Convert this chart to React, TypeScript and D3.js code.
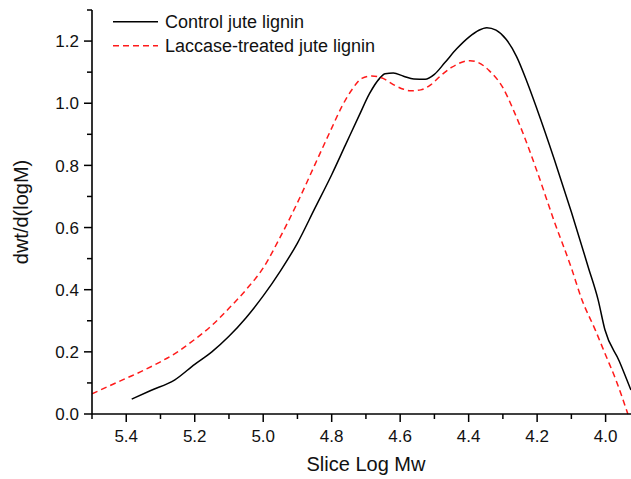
import React from "react";
import * as d3 from "d3";

const controlLogM = [5.384, 5.33, 5.258, 5.2, 5.15, 5.1, 5.05, 5.0, 4.95, 4.9, 4.85, 4.8, 4.76, 4.72, 4.69, 4.66, 4.644, 4.62, 4.59, 4.56, 4.527, 4.5, 4.47, 4.435, 4.4, 4.37, 4.347, 4.32, 4.29, 4.26, 4.23, 4.2, 4.15, 4.1, 4.05, 4.022, 4.002, 3.96, 3.926];
const controlVal = [0.048, 0.075, 0.11, 0.16, 0.2, 0.25, 0.31, 0.38, 0.46, 0.55, 0.66, 0.77, 0.865, 0.96, 1.03, 1.08, 1.095, 1.097, 1.087, 1.078, 1.077, 1.093, 1.13, 1.175, 1.212, 1.235, 1.243, 1.235, 1.205, 1.15, 1.07, 0.98, 0.82, 0.65, 0.47, 0.368, 0.271, 0.17, 0.077];

const laccaseLogM = [5.5, 5.45, 5.4, 5.35, 5.3, 5.25, 5.2, 5.15, 5.1, 5.05, 5.0, 4.95, 4.9, 4.85, 4.8, 4.77, 4.74, 4.712, 4.683, 4.65, 4.62, 4.59, 4.571, 4.54, 4.51, 4.48, 4.45, 4.42, 4.396, 4.37, 4.34, 4.3, 4.27, 4.24, 4.2, 4.15, 4.1, 4.07, 4.03, 4.0, 3.97, 3.935];
const laccaseVal = [0.065, 0.09, 0.115, 0.14, 0.168, 0.2, 0.24, 0.285, 0.34, 0.4, 0.47, 0.57, 0.68, 0.8, 0.92, 0.99, 1.045, 1.08, 1.088, 1.08, 1.06, 1.045, 1.04, 1.043, 1.06, 1.09, 1.115, 1.132, 1.137, 1.13, 1.105, 1.05, 0.98, 0.9, 0.78, 0.62, 0.47, 0.37, 0.27, 0.19, 0.11, 0.0];

const xMajorTicks = [5.4, 5.2, 5.0, 4.8, 4.6, 4.4, 4.2, 4.0];
const xMinorTicks = [5.5, 5.3, 5.1, 4.9, 4.7, 4.5, 4.3, 4.1];
const yMajorTicks = [0.0, 0.2, 0.4, 0.6, 0.8, 1.0, 1.2];
const yMinorTicks = [0.1, 0.3, 0.5, 0.7, 0.9, 1.1, 1.3];

const seriesNames = ["Control jute lignin", "Laccase-treated jute lignin"];
const xTitle = "Slice Log Mw";
const yTitle = "dwt/d(logM)";

export default function App() {
  const W = 631, H = 479;
  const left = 92, right = 633, top = 10, bottom = 414;
  const x = d3.scaleLinear().domain([5.5, 3.92]).range([left, right]);
  const y = d3.scaleLinear().domain([0, 1.3]).range([bottom, top]);
  const font = "Arial, 'Liberation Sans', Helvetica, sans-serif";

  const line = d3
    .line<[number, number]>()
    .x((d) => x(d[0]))
    .y((d) => y(d[1]))
    .curve(d3.curveMonotoneX);

  const control: [number, number][] = controlLogM.map((v, i) => [v, controlVal[i]]);
  const laccase: [number, number][] = laccaseLogM.map((v, i) => [v, laccaseVal[i]]);

  return (
    <svg width={W} height={H} style={{ position: "absolute", left: 0, top: 0, background: "#fff" }} fontFamily={font}>
      <defs>
        <clipPath id="plotclip">
          <rect x={left} y={0} width={W - left} height={bottom + 1} />
        </clipPath>
      </defs>
      <g clipPath="url(#plotclip)">
        <path d={line(control) || ""} fill="none" stroke="#000" strokeWidth={1.5} />
        <path d={line(laccase) || ""} fill="none" stroke="#ff1a1a" strokeWidth={1.5} strokeDasharray="6,4" />
      </g>
      <line x1={left} x2={left} y1={y(1.3)} y2={bottom} stroke="#000" strokeWidth={1.6} />
      <line x1={left} x2={W} y1={bottom} y2={bottom} stroke="#000" strokeWidth={1.6} />
      {yMajorTicks.map((t) => (
        <g key={"ym" + t}>
          <line x1={left - 8} x2={left} y1={y(t)} y2={y(t)} stroke="#000" strokeWidth={1.5} />
          <text x={left - 13} y={y(t)} dy="0.36em" textAnchor="end" fontSize={17} fill="#111">
            {t.toFixed(1)}
          </text>
        </g>
      ))}
      {yMinorTicks.map((t) => (
        <line key={"yn" + t} x1={left - 5} x2={left} y1={y(t)} y2={y(t)} stroke="#000" strokeWidth={1.5} />
      ))}
      {xMajorTicks.map((t) => (
        <g key={"xm" + t}>
          <line x1={x(t)} x2={x(t)} y1={bottom} y2={bottom + 8} stroke="#000" strokeWidth={1.5} />
          <text x={x(t)} y={bottom + 28} textAnchor="middle" fontSize={17} fill="#111">
            {t.toFixed(1)}
          </text>
        </g>
      ))}
      {xMinorTicks.map((t) => (
        <line key={"xn" + t} x1={x(t)} x2={x(t)} y1={bottom} y2={bottom + 5} stroke="#000" strokeWidth={1.5} />
      ))}
      <text x={366} y={471} textAnchor="middle" fontSize={20} fill="#111">
        {xTitle}
      </text>
      <text transform={`translate(28, ${(top + bottom) / 2}) rotate(-90)`} textAnchor="middle" fontSize={20} fill="#111">
        {yTitle}
      </text>
      <line x1={113} x2={158} y1={21.7} y2={21.7} stroke="#000" strokeWidth={1.5} />
      <text x={165} y={21.7} dy="0.36em" fontSize={18} fill="#111">{seriesNames[0]}</text>
      <line x1={113} x2={158} y1={45.7} y2={45.7} stroke="#ff1a1a" strokeWidth={1.5} strokeDasharray="6,4" />
      <text x={165} y={45.7} dy="0.36em" fontSize={18} fill="#111">{seriesNames[1]}</text>
    </svg>
  );
}
